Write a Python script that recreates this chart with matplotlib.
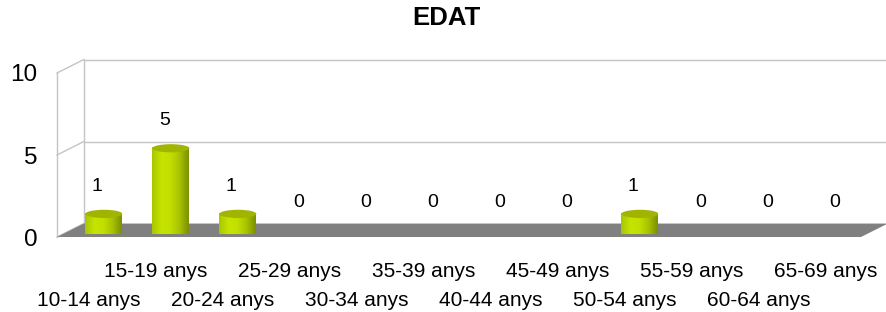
import numpy as np
import matplotlib.pyplot as plt
from matplotlib.patches import Polygon, Ellipse
from matplotlib.colors import LinearSegmentedColormap

plt.rcParams['font.family'] = ['Liberation Sans', 'DejaVu Sans']

# %% Dades
title = "EDAT"
categories = ["10-14 anys", "15-19 anys", "20-24 anys", "25-29 anys",
              "30-34 anys", "35-39 anys", "40-44 anys", "45-49 anys",
              "50-54 anys", "55-59 anys", "60-64 anys", "65-69 anys"]
values = [1, 5, 1, 0, 0, 0, 0, 0, 1, 0, 0, 0]
y_ticks = [0, 5, 10]

# %% Estil / geometria pseudo-3D
DX, DY = 0.40, 0.82      # profunditat (unitats de categoria, unitats de valor)
BAR_W = 0.55
ELL_H = 0.5
GRID = "#c4c4c4"
FLOOR = "#808080"
TOP = "#a0b400"
cyl_cmap = LinearSegmentedColormap.from_list(
    "cyl", ["#a9c600", "#c6e400", "#c2df00", "#a8c200", "#7c9000"])

n = len(categories)
fig = plt.figure(figsize=(8.86, 3.12), dpi=100)
ax = fig.add_axes([57 / 886, 75 / 312, 804 / 886, 164 / 312])

# parets i graella
x0, x1 = -0.5, n - 0.5
ax.plot([x0, x0], [0, y_ticks[-1]], color=GRID, lw=1, clip_on=False)
ax.plot([x0 + DX, x0 + DX], [DY, y_ticks[-1] + DY], color=GRID, lw=1, clip_on=False)
for t in y_ticks:
    ax.plot([x0, x0 + DX], [t, t + DY], color=GRID, lw=1, clip_on=False)
    if t > 0:
        ax.plot([x0 + DX, x1 + DX], [t + DY, t + DY], color=GRID, lw=1, clip_on=False)

# terra
floor = Polygon([(x0, 0), (x1, 0), (x1 + DX, DY), (x0 + DX, DY)],
                closed=True, fc=FLOOR, ec="none", clip_on=False, zorder=2)
ax.add_patch(floor)

# cilindres
grad = np.linspace(0, 1, 64)[np.newaxis, :]
theta = np.linspace(0, -np.pi, 40)
for i, v in enumerate(values):
    if v <= 0:
        continue
    cx = i + DX / 2
    base = DY / 2
    top = base + v
    left, right = cx - BAR_W / 2, cx + BAR_W / 2
    pts = [(left, base), (left, top), (right, top)]
    pts += list(zip(cx + BAR_W / 2 * np.cos(theta), base + ELL_H / 2 * np.sin(theta)))
    body = Polygon(pts, closed=True, transform=ax.transData)
    im = ax.imshow(grad, extent=[left, right, base - ELL_H / 2, top], cmap=cyl_cmap,
                   aspect="auto", zorder=3, clip_on=False)
    im.set_clip_path(body)
    ax.add_patch(Ellipse((cx, top), BAR_W, ELL_H, fc=TOP, ec="none", zorder=4, clip_on=False))

# etiquetes de valor
for i, v in enumerate(values):
    ax.text(i + 0.1, v + DY / 2 + 1.68, str(v), ha="center", va="center", fontsize=14)

# etiquetes de categoria (esglaonades)
for i, c in enumerate(categories):
    off = -24.5 if i % 2 == 1 else -45.5
    ax.annotate(c, xy=(i - 0.03, 0), xytext=(0, off), textcoords="offset points",
                ha="center", va="center", fontsize=15, annotation_clip=False)

ax.set_xlim(x0, x1)
ax.set_ylim(0, y_ticks[-1])
ax.set_xticks([])
ax.set_yticks(y_ticks)
ax.tick_params(axis="y", length=0, pad=14, labelsize=17.5)
for s in ax.spines.values():
    s.set_visible(False)
ax.patch.set_alpha(0)

fig.text(446 / 886, 1 - 18 / 312, title, ha="center", va="center",
         fontsize=18.5, fontweight="bold")

fig.savefig("out.png", dpi=100)
